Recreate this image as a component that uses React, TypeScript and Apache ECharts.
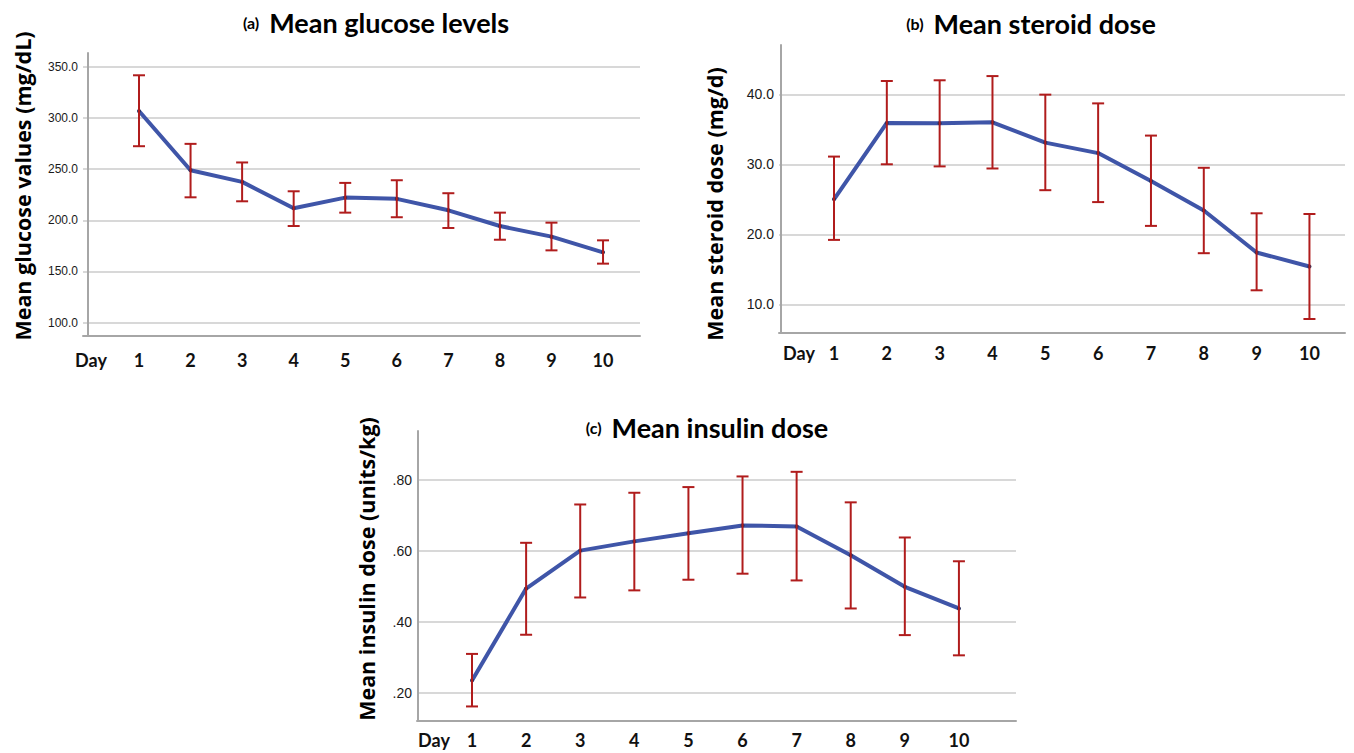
import React, { useEffect, useRef } from "react";
import * as echarts from "echarts";

const days = [1, 2, 3, 4, 5, 6, 7, 8, 9, 10];

const glucoseMean = [307, 249, 237.6, 211.8, 222.2, 221, 209.8, 194.4, 184, 168.7];
const glucoseLow = [272.5, 222.5, 218.6, 194.4, 207.5, 203, 192.5, 181, 170.6, 157.6];
const glucoseHigh = [341.9, 274.8, 256.6, 228.4, 236.6, 239.2, 226.5, 207.5, 197.7, 180.4];
const glucoseTicks = [100, 150, 200, 250, 300, 350];

const steroidMean = [25.0, 35.9, 35.85, 36.0, 33.1, 31.6, 27.6, 23.4, 17.4, 15.4];
const steroidLow = [19.2, 30.0, 29.7, 29.4, 26.3, 24.6, 21.2, 17.3, 12.0, 7.9];
const steroidHigh = [31.1, 41.9, 42.0, 42.6, 39.95, 38.7, 34.1, 29.5, 23.0, 22.9];
const steroidTicks = [10, 20, 30, 40];

const insulinMean = [0.235, 0.494, 0.601, 0.627, 0.65, 0.672, 0.669, 0.588, 0.499, 0.438];
const insulinLow = [0.162, 0.364, 0.469, 0.489, 0.519, 0.536, 0.517, 0.438, 0.363, 0.306];
const insulinHigh = [0.31, 0.623, 0.731, 0.764, 0.78, 0.81, 0.823, 0.737, 0.638, 0.571];
const insulinTicks = [0.2, 0.4, 0.6, 0.8];

const titles = ["(a)", "(b)", "(c)"];
const titleTexts = ["Mean glucose levels", "Mean steroid dose", "Mean insulin dose"];
const yTitles = ["Mean glucose values (mg/dL)", "Mean steroid dose (mg/d)", "Mean insulin dose (units/kg)"];

const LINE = "#3f55a8";
const ERR = "#b01c1c";
const GRID = "#d8d8d8";
const AXIS = "#a6a6a6";

export default function App() {
  const ref = useRef<HTMLDivElement>(null);
  useEffect(() => {
    if (!ref.current) return;
    const chart = echarts.init(ref.current, null, { renderer: "svg" });

    const panels = [
      {
        grid: { left: 83, top: 53, width: 557, height: 283 },
        x: [-0.086, 10.717], y: [86.8, 363.7], ticks: glucoseTicks,
        fmt: (v: number) => v.toFixed(1), labelSize: 12, dayMargin: 15,
        mean: glucoseMean, low: glucoseLow, high: glucoseHigh,
      },
      {
        grid: { left: 779, top: 45, width: 566, height: 288 },
        x: [-0.041, 10.673], y: [5.9, 47.04], ticks: steroidTicks,
        fmt: (v: number) => v.toFixed(1), labelSize: 14, dayMargin: 11,
        mean: steroidMean, low: steroidLow, high: steroidHigh,
      },
      {
        grid: { left: 417, top: 431, width: 599, height: 290 },
        x: [-0.017, 11.055], y: [0.121, 0.938], ticks: insulinTicks,
        fmt: (v: number) => v.toFixed(2).replace(/^0/, ""), labelSize: 14, dayMargin: 10,
        mean: insulinMean, low: insulinLow, high: insulinHigh,
      },
    ];

    const grids: any[] = [];
    const xAxes: any[] = [];
    const yAxes: any[] = [];
    const series: any[] = [];

    panels.forEach((p, i) => {
      grids.push(p.grid);
      xAxes.push({
        type: "value", gridIndex: i, min: p.x[0], max: p.x[1],
        axisLine: { show: true, lineStyle: { color: AXIS, width: 2 } },
        axisTick: { show: false, customValues: days },
        splitLine: { show: false },
        axisLabel: {
          customValues: days, margin: p.dayMargin,
          fontFamily: "Lato", fontWeight: "bold", fontSize: 18, color: "#111",
        },
      });
      yAxes.push({
        type: "value", gridIndex: i, min: p.y[0], max: p.y[1],
        axisLine: { show: true, lineStyle: { color: AXIS, width: 2 } },
        axisTick: { show: false, customValues: p.ticks },
        splitLine: { show: true, lineStyle: { color: GRID, width: 2 } },
        axisLabel: {
          customValues: p.ticks, margin: 5, formatter: p.fmt,
          fontFamily: "Liberation Sans", fontSize: p.labelSize, color: "#1a1a1a",
        },
      });
      series.push({
        type: "line", xAxisIndex: i, yAxisIndex: i, z: 2,
        data: days.map((d, k) => [d, p.mean[k]]),
        lineStyle: { color: LINE, width: 4 },
        itemStyle: { color: "#26325f" },
        symbol: "circle", symbolSize: 4, showSymbol: true,
      });
      series.push({
        type: "custom", xAxisIndex: i, yAxisIndex: i, z: 3,
        data: days.map((d, k) => [d, p.low[k], p.high[k]]),
        renderItem: (params: any, api: any) => {
          const xv = api.value(0);
          const top = api.coord([xv, api.value(2)]);
          const bot = api.coord([xv, api.value(1)]);
          const h = 6;
          const st = { stroke: ERR, lineWidth: 2 };
          return {
            type: "group",
            children: [
              { type: "line", shape: { x1: top[0], y1: top[1], x2: bot[0], y2: bot[1] }, style: st },
              { type: "line", shape: { x1: top[0] - h, y1: top[1], x2: top[0] + h, y2: top[1] }, style: st },
              { type: "line", shape: { x1: bot[0] - h, y1: bot[1], x2: bot[0] + h, y2: bot[1] }, style: st },
            ],
          };
        },
      });
    });

    const titlePos = [[376, 22], [1031, 23], [707, 427]];
    const yTitlePos = [[22, 186], [714, 204], [366, 569]];
    const dayPos = [[91, 360], [799, 353], [434, 740]];

    const graphic: any[] = [];
    titles.forEach((t, i) => {
      graphic.push({
        type: "text", x: titlePos[i][0], y: titlePos[i][1],
        style: {
          text: `{s|${t}}{b|${titleTexts[i]}}`,
          align: "center", verticalAlign: "middle",
          rich: {
            s: { fontFamily: "Lato", fontWeight: "bold", fontSize: 16, fill: "#000", padding: [0, 10, 0, 0] },
            b: { fontFamily: "Lato", fontWeight: "bold", fontSize: 27, fill: "#000" },
          },
        },
      });
      graphic.push({
        type: "text", x: yTitlePos[i][0], y: yTitlePos[i][1], rotation: Math.PI / 2,
        style: {
          text: yTitles[i], align: "center", verticalAlign: "middle",
          fontFamily: "Open Sans", fontWeight: "bold", fontSize: 21.5, fill: "#000",
        },
      });
      graphic.push({
        type: "text", x: dayPos[i][0], y: dayPos[i][1],
        style: {
          text: "Day", align: "center", verticalAlign: "middle",
          fontFamily: "Lato", fontWeight: "bold", fontSize: 18, fill: "#111",
        },
      });
    });

    chart.setOption({
      animation: false,
      backgroundColor: "#fff",
      grid: grids,
      xAxis: xAxes,
      yAxis: yAxes,
      series,
      graphic,
    });
    return () => chart.dispose();
  }, []);
  return <div ref={ref} style={{ position: "absolute", left: 0, top: 0, width: 1354, height: 753 }} />;
}
